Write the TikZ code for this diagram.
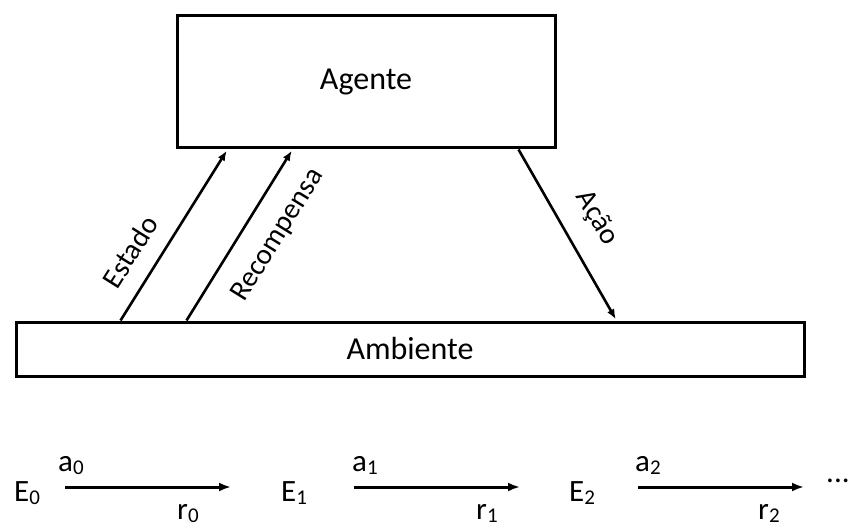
\documentclass[tikz,border=0pt]{standalone}
\usepackage{fontspec}
\setmainfont{Carlito}
\usetikzlibrary{arrows.meta}
\newcommand\subnum[1]{\raisebox{-0.1em}{\fontsize{21}{21}\selectfont #1}}
\begin{document}
\begin{tikzpicture}[x=1pt,y=-1pt,
  box/.style={draw,line width=3pt,inner sep=0pt},
  boxtext/.style={font=\fontsize{32}{34}\selectfont},
  lbl/.style={font=\fontsize{29}{31}\selectfont,inner sep=0pt,sloped},
  seq/.style={font=\fontsize{31}{33}\selectfont,inner sep=0pt,anchor=base west},
  flow/.style={line width=2.6pt,-{Latex[length=10pt,width=8pt]}},
  seqflow/.style={line width=3pt,-{Latex[length=12pt,width=9pt]}},
]
\useasboundingbox (0,0) rectangle (848,529);
\node[box,boxtext,minimum width=378pt,minimum height=132pt] (agent) at (366,82) {Agente};
\node[box,boxtext,minimum width=788pt,minimum height=54pt] (amb) at (410,349) {Ambiente};

\draw[flow,shorten >=1.5pt] ([xshift=106pt]amb.north west) -- node[lbl,pos=0.315,above=17pt] {Estado} ([xshift=52pt]agent.south west);
\draw[flow,shorten >=1.5pt] ([xshift=172pt]amb.north west) -- node[lbl,pos=0.6,below=20pt] {Recompensa} ([xshift=117pt]agent.south west);
\draw[flow,shorten >=1.5pt] ([xshift=343pt]agent.south west) -- node[lbl,pos=0.5,above=20pt] {Ação} ([xshift=602pt]amb.north west);

\node[seq] (e0) at (14,501) {E\subnum{0}};
\node[seq] (e1) at (281,501) {E\subnum{1}};
\node[seq] (e2) at (569,501) {E\subnum{2}};
\node[seq] (dots) at (826,482) {...};

\coordinate (s0) at (65,487);  \coordinate (t0) at (231,487);
\coordinate (s1) at (354,487); \coordinate (t1) at (520,487);
\coordinate (s2) at (638,487); \coordinate (t2) at (804,487);
\draw[seqflow] (s0) -- (t0);
\draw[seqflow] (s1) -- (t1);
\draw[seqflow] (s2) -- (t2);

\node[seq] (a0) at (58,471) {a\subnum{0}};
\node[seq] (a1) at (352,471) {a\subnum{1}};
\node[seq] (a2) at (635,471) {a\subnum{2}};
\node[seq] (r0) at (177,519) {r\subnum{0}};
\node[seq] (r1) at (476,519) {r\subnum{1}};
\node[seq] (r2) at (758,519) {r\subnum{2}};
\end{tikzpicture}
\end{document}
